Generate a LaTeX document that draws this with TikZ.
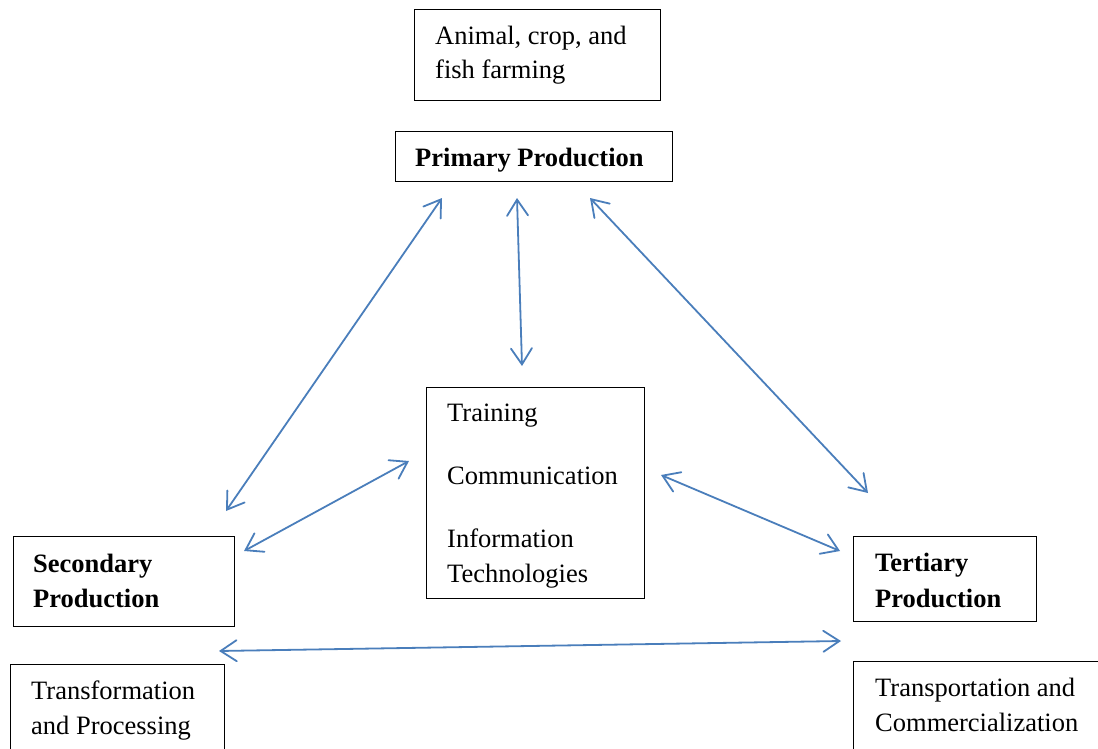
\documentclass[tikz,border=0pt]{standalone}
\usepackage{fontspec}
\setmainfont{Liberation Serif}
\usetikzlibrary{arrows.meta}
\definecolor{arrowblue}{HTML}{4A7EBB}
\tikzset{
  box/.style={draw=black, line width=1.2pt, anchor=north west, inner sep=0pt, fill=none},
  txt/.style={anchor=base west, inner sep=0pt, font=\fontsize{26.5}{35}\selectfont},
  btxt/.style={txt, font=\fontsize{26.5}{35}\selectfont\bfseries},
  link/.style={draw=arrowblue, line width=1.8pt, line cap=round,
    {Straight Barb[length=16pt,width=21pt,line cap=round]}-{Straight Barb[length=16pt,width=21pt,line cap=round]}}
}
\begin{document}
\begin{tikzpicture}[x=1pt,y=-1pt]
\useasboundingbox (0,0) rectangle (1098,749);
\clip (0,0) rectangle (1098,749);
% boxes
\node[box, minimum width=246pt, minimum height=91pt] (animal) at (414,9) {};
\node[box, minimum width=277pt, minimum height=50pt] (primary) at (395,131) {};
\node[box, minimum width=218pt, minimum height=211pt] (center) at (426,387) {};
\node[box, minimum width=221pt, minimum height=90pt] (secondary) at (13,536) {};
\node[box, minimum width=183pt, minimum height=85pt] (tertiary) at (853,536) {};
\node[box, minimum width=214pt, minimum height=110pt] (transf) at (10,664) {};
\node[box, minimum width=270pt, minimum height=110pt] (transp) at (853,661) {};
% texts
\node[txt] (animal1) at (435,45) {Animal, crop, and};
\node[txt] (animal2) at (435,79) {fish farming};
\node[btxt] (primaryt) at (415,167) {Primary Production};
\node[txt] (c1) at (447,421) {Training};
\node[txt] (c2) at (447,484) {Communication};
\node[txt] (c3) at (447,547) {Information};
\node[txt] (c4) at (447,582) {Technologies};
\node[btxt] (s1) at (33,572) {Secondary};
\node[btxt] (s2) at (33,607) {Production};
\node[btxt] (t1) at (875,571) {Tertiary};
\node[btxt] (t2) at (875,607) {Production};
\node[txt] (tf1) at (31,699) {Transformation};
\node[txt] (tf2) at (31,734) {and Processing};
\node[txt] (tp1) at (875,696) {Transportation and};
\node[txt] (tp2) at (875,731) {Commercialization};
% arrow end points
\coordinate (pA) at (442,198);
\coordinate (sA) at (226,511);
\coordinate (pB) at (517,198);
\coordinate (cB) at (522,366);
\coordinate (pC) at (590,198);
\coordinate (tC) at (868,493);
\coordinate (cD) at (409,461);
\coordinate (sD) at (244,551);
\coordinate (cE) at (661,475);
\coordinate (tE) at (840,551);
\coordinate (sF) at (219,651);
\coordinate (tF) at (841,641);
% connectors
\draw[link] (pA) -- (sA);
\draw[link] (pB) -- (cB);
\draw[link] (pC) -- (tC);
\draw[link] (cD) -- (sD);
\draw[link] (cE) -- (tE);
\draw[link] (sF) -- (tF);
\end{tikzpicture}
\end{document}
